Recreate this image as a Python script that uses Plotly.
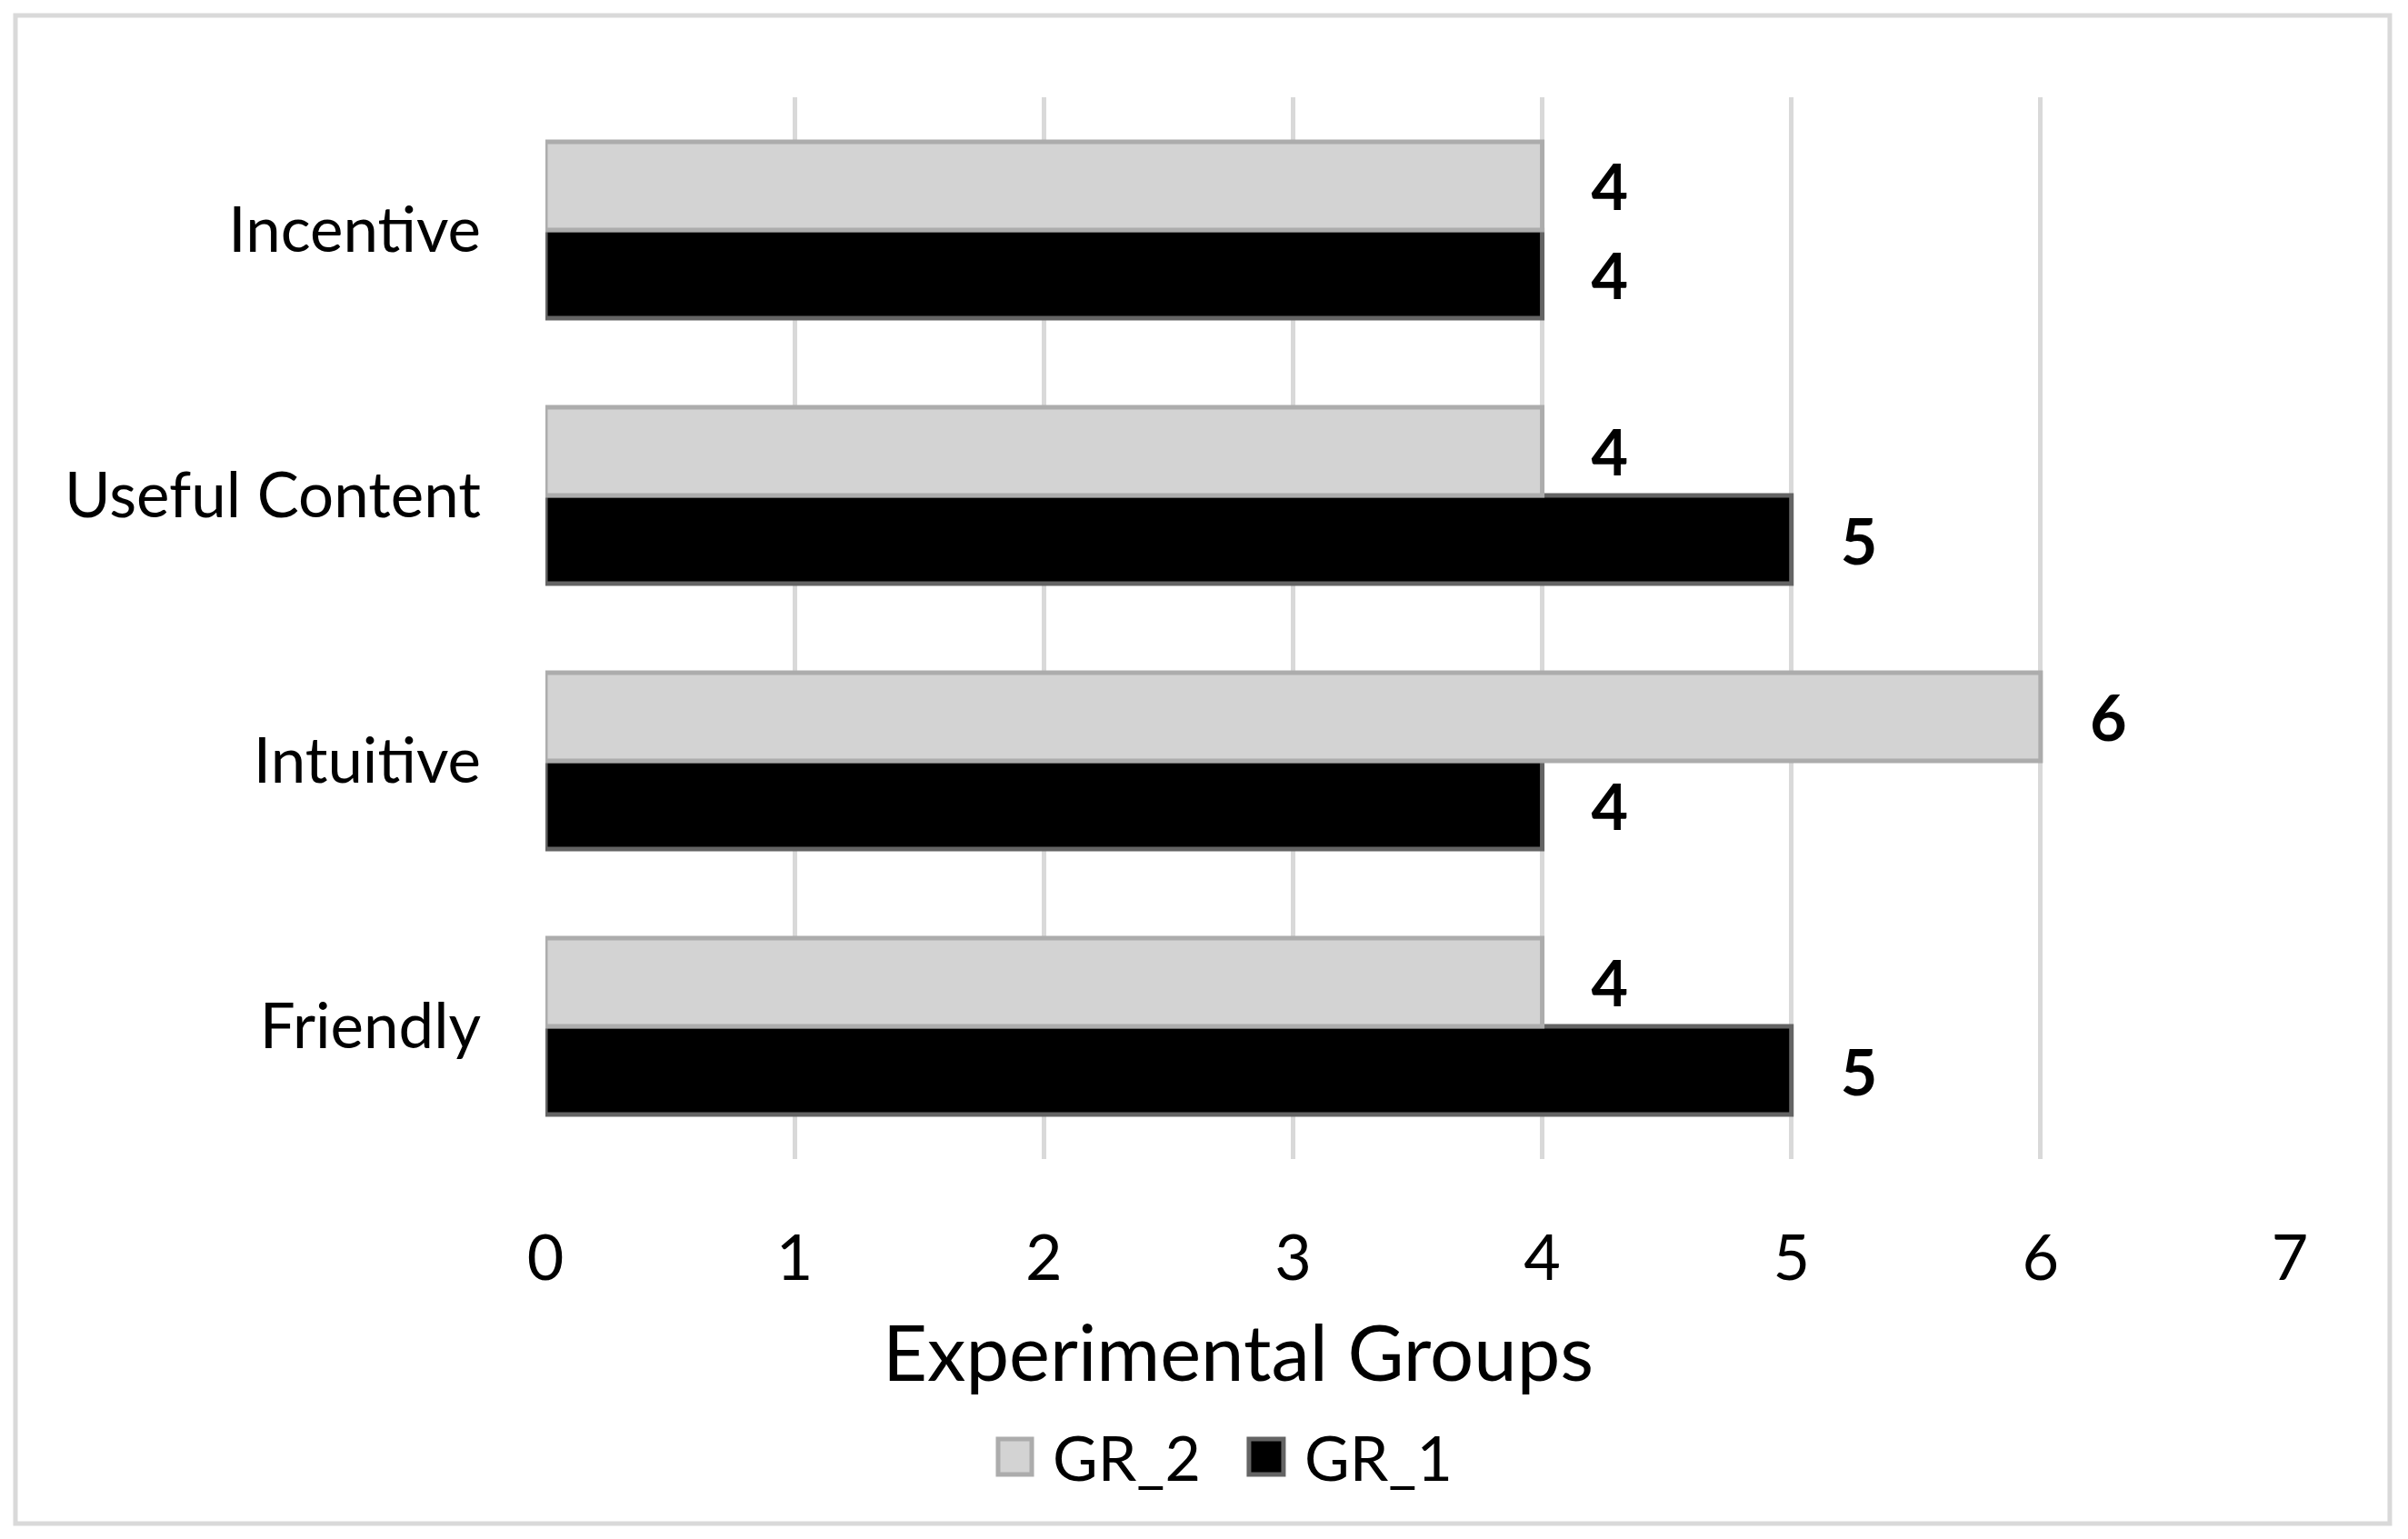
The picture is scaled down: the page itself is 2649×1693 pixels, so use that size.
import plotly.graph_objects as go

categories = ["Incentive", "Useful Content", "Intuitive", "Friendly"]
gr2_values = [4, 4, 6, 4]
gr1_values = [4, 5, 4, 5]
x_ticks = [0, 1, 2, 3, 4, 5, 6, 7]
x_title = "Experimental Groups"
legend_labels = ["GR_2", "GR_1"]

FONT = "Lato, 'Open Sans', sans-serif"
GR2_FILL, GR2_LINE = "#d3d3d3", "#acacac"
GR1_FILL, GR1_LINE = "#000000", "#646464"

fig = go.Figure()

fig.add_trace(go.Bar(
    name="GR_1", y=categories, x=gr1_values, orientation="h",
    marker=dict(color=GR1_FILL, line=dict(color=GR1_LINE, width=5)),
    texttemplate="\u00a0\u00a0\u00a0%{x}", textposition="outside",
    textfont=dict(family=FONT, size=70, color="black", weight="bold"),
    cliponaxis=False, showlegend=False,
))
fig.add_trace(go.Bar(
    name="GR_2", y=categories, x=gr2_values, orientation="h",
    marker=dict(color=GR2_FILL, line=dict(color=GR2_LINE, width=5)),
    texttemplate="\u00a0\u00a0\u00a0%{x}", textposition="outside",
    textfont=dict(family=FONT, size=70, color="black", weight="bold"),
    cliponaxis=False, showlegend=False,
))

# manual legend (large square swatches)
legend_items = [
    (legend_labels[0], GR2_FILL, GR2_LINE, 0.2595, 0.2788, 0.2897),
    (legend_labels[1], GR1_FILL, GR1_LINE, 0.4033, 0.4231, 0.4341),
]
shapes = [dict(
    type="rect", xref="paper", yref="paper",
    x0=-0.3038, x1=1.0573, y0=-0.3433, y1=1.077,
    line=dict(color="#d9d9d9", width=5), fillcolor="rgba(0,0,0,0)", layer="below",
)]
annotations = [dict(
    text=x_title, xref="paper", yref="paper", x=0.397, y=-0.181,
    xanchor="center", yanchor="middle", showarrow=False,
    font=dict(family=FONT, size=85, color="black"),
)]
for label, fill, line, sx0, sx1, tx in legend_items:
    shapes.append(dict(
        type="rect", xref="paper", yref="paper",
        x0=sx0, x1=sx1, y0=-0.2971, y1=-0.2637,
        line=dict(color=line, width=5), fillcolor=fill,
    ))
    annotations.append(dict(
        text=label, xref="paper", yref="paper", x=tx, y=-0.280,
        xanchor="left", yanchor="middle", showarrow=False,
        font=dict(family=FONT, size=68, color="black"),
    ))

fig.update_layout(
    width=2649, height=1693,
    paper_bgcolor="white", plot_bgcolor="white",
    margin=dict(l=592, r=138, t=99, b=426, autoexpand=False),
    barmode="group", bargap=0.335, bargroupgap=0,
    font=dict(family=FONT, color="black"),
    showlegend=False,
    xaxis=dict(
        range=[0, 7], tickvals=x_ticks, showgrid=True, gridcolor="#d9d9d9", gridwidth=5,
        zeroline=False, showline=False, ticks="",
        tickfont=dict(family=FONT, size=70, color="black"),
        ticklabelstandoff=62,
        fixedrange=True,
    ),
    yaxis=dict(
        categoryorder="array", categoryarray=categories[::-1],
        showgrid=False, zeroline=False, showline=False, ticks="",
        tickfont=dict(family=FONT, size=69, color="black"),
        ticklabelstandoff=70,
        fixedrange=True,
    ),
    annotations=annotations,
    shapes=shapes,
)

fig.write_html("out.html")
